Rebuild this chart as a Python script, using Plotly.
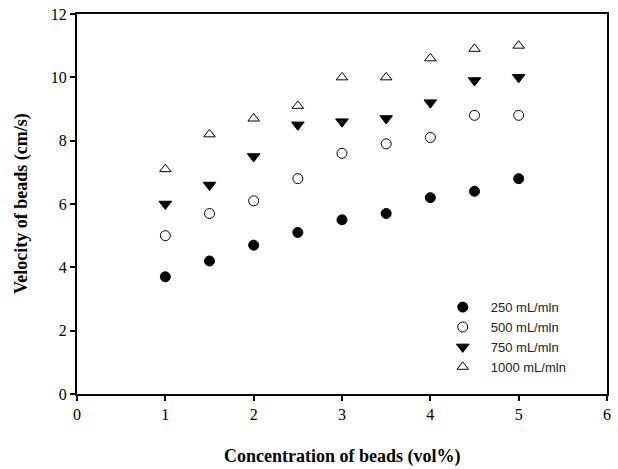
import plotly.graph_objects as go

conc = [1, 1.5, 2, 2.5, 3, 3.5, 4, 4.5, 5]
v250 = [3.7, 4.2, 4.7, 5.1, 5.5, 5.7, 6.2, 6.4, 6.8]
v500 = [5.0, 5.7, 6.1, 6.8, 7.6, 7.9, 8.1, 8.8, 8.8]
v750 = [6.0, 6.6, 7.5, 8.5, 8.6, 8.7, 9.2, 9.9, 10.0]
v1000 = [7.1, 8.2, 8.7, 9.1, 10.0, 10.0, 10.6, 10.9, 11.0]
names = ["250 mL/mln", "500 mL/mln", "750 mL/mln", "1000 mL/mln"]
x_ticks = [0, 1, 2, 3, 4, 5, 6]
y_ticks = [0, 2, 4, 6, 8, 10, 12]
x_title = "Concentration of beads (vol%)"
y_title = "Velocity of beads (cm/s)"

series = [v250, v500, v750, v1000]
symbols = ["circle", "circle-open", "triangle-down", "triangle-up-open"]
sizes = [10, 10, 11, 10]

fig = go.Figure()
for vals, nm, sym, sz in zip(series, names, symbols, sizes):
    fig.add_trace(go.Scatter(
        x=conc, y=vals, mode="markers", name=nm,
        marker=dict(symbol=sym, size=sz, color="black",
                    line=dict(color="black", width=1)),
    ))

fig.update_layout(
    width=618, height=469,
    margin=dict(l=77, r=11, t=14, b=75),
    paper_bgcolor="white", plot_bgcolor="white",
    showlegend=True,
    legend=dict(x=0.675, y=0.268, xanchor="left", yanchor="top",
                itemwidth=46,
                font=dict(family="Liberation Sans, Arial", size=13, color="#222"),
                bgcolor="rgba(0,0,0,0)", tracegroupgap=0),
    font=dict(family="Liberation Serif, Times New Roman", color="black"),
    annotations=[
        dict(text="<b>" + x_title + "</b>", xref="paper", yref="paper",
             x=0.5, y=0, xanchor="center", yanchor="middle", yshift=-62,
             showarrow=False,
             font=dict(family="Liberation Serif", size=18, color="black")),
        dict(text="<b>" + y_title + "</b>", xref="paper", yref="paper",
             x=0, y=0.5, xanchor="center", yanchor="middle", xshift=-56,
             textangle=-90, showarrow=False,
             font=dict(family="Liberation Serif", size=18, color="black")),
    ],
)
fig.update_xaxes(
    range=[0, 6], tickvals=x_ticks, ticktext=[str(t) for t in x_ticks],
    showgrid=False, zeroline=False, automargin=False,
    showline=True, linecolor="black", linewidth=2, mirror=True,
    ticks="outside", ticklen=5, tickwidth=1.5, tickcolor="black",
    tickfont=dict(family="Liberation Serif", size=16, color="black"),
)
fig.update_yaxes(
    range=[0, 12], tickvals=y_ticks, ticktext=[str(t) for t in y_ticks],
    showgrid=False, zeroline=False, automargin=False,
    showline=True, linecolor="black", linewidth=2, mirror=True,
    ticks="outside", ticklen=5, tickwidth=1.5, tickcolor="black",
    tickfont=dict(family="Liberation Serif", size=16, color="black"),
)
fig.write_html("out.html", config={"displayModeBar": False},
               post_script="document.body.style.margin='0';document.body.style.padding='0';")
